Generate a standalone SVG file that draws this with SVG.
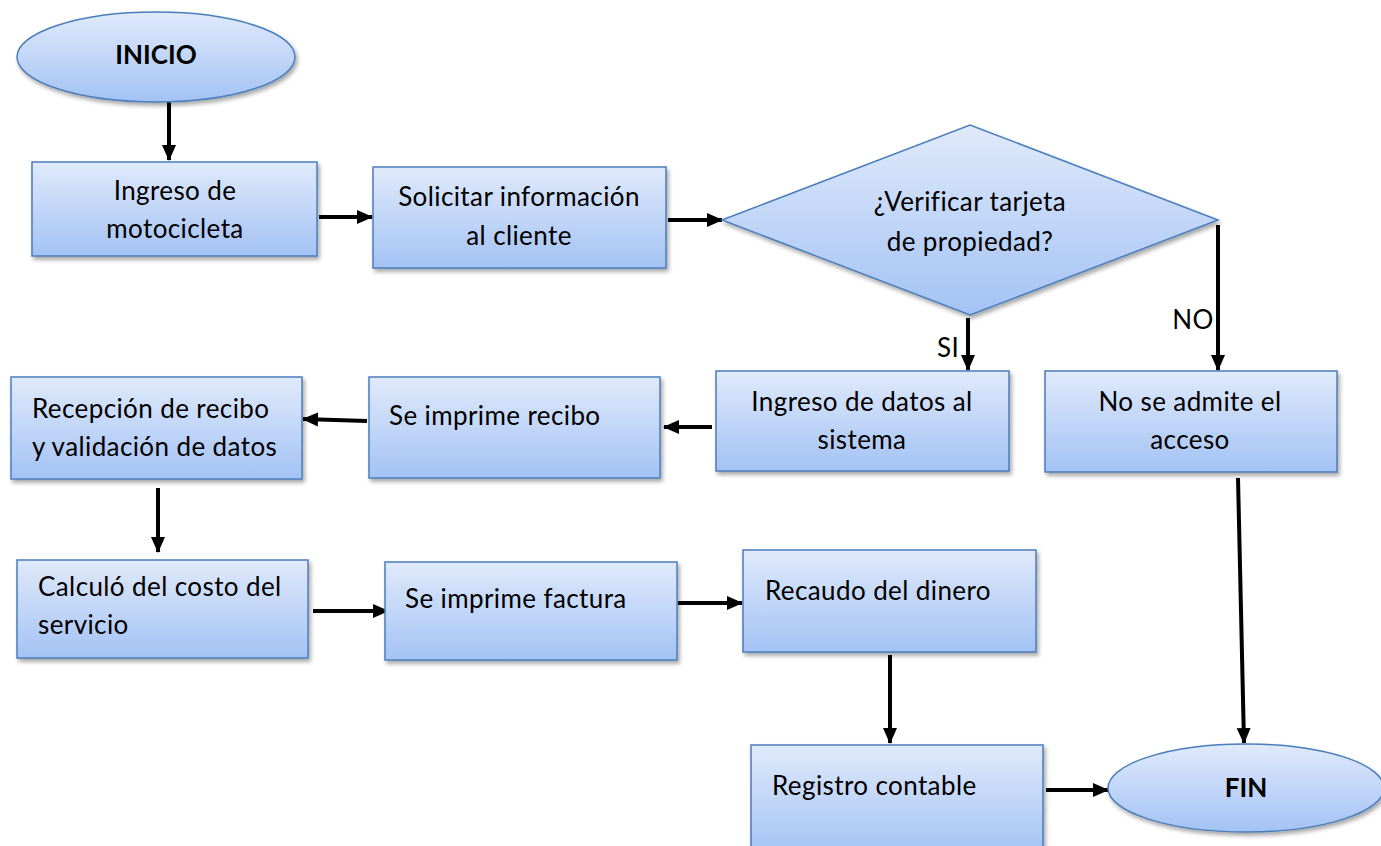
<svg xmlns="http://www.w3.org/2000/svg" width="1381" height="846" viewBox="0 0 1381 846">
<defs>
<linearGradient id="g" x1="0" y1="0" x2="0" y2="1">
<stop offset="0" stop-color="#e0eafb"/>
<stop offset="1" stop-color="#a3c2f4"/>
</linearGradient>
<filter id="sh" x="-10%" y="-10%" width="130%" height="140%">
<feDropShadow dx="2" dy="3" stdDeviation="2" flood-color="#000" flood-opacity="0.35"/>
</filter>
<marker id="ah" markerUnits="userSpaceOnUse" markerWidth="16" markerHeight="16" viewBox="0 0 16 16" refX="15" refY="8" orient="auto">
<path d="M0,1 L16,8 L0,15 Z" fill="#000"/>
</marker>
<style>
.n{fill:url(#g);stroke:#4a7ebb;stroke-width:1.5;filter:url(#sh)}
.t{font-family:Lato,"Liberation Sans",sans-serif;font-size:26px;letter-spacing:0.4px;fill:#000}
.c{text-anchor:middle}
.b{font-weight:bold;letter-spacing:0}
.e line{stroke:#000;stroke-width:4;marker-end:url(#ah)}
</style>
</defs>
<rect width="1381" height="846" fill="#fff"/>
<g id="connectors" class="e">
<line x1="169" y1="102" x2="169" y2="160"/>
<line x1="319" y1="217" x2="372" y2="217"/>
<line x1="668" y1="220" x2="722" y2="220"/>
<line x1="968" y1="318" x2="968" y2="370"/>
<line x1="1218" y1="225" x2="1218" y2="370"/>
<line x1="712" y1="427" x2="664" y2="427"/>
<line x1="367" y1="421" x2="303" y2="419"/>
<line x1="158" y1="488" x2="158" y2="552"/>
<line x1="313" y1="611" x2="388" y2="611"/>
<line x1="678" y1="603" x2="742" y2="603"/>
<line x1="890" y1="655" x2="890" y2="743"/>
<line x1="1046" y1="790" x2="1108" y2="790"/>
<line x1="1238" y1="478" x2="1244" y2="743"/>
</g>
<text class="t" x="948" y="357" text-anchor="middle">SI</text>
<text class="t" x="1193" y="329" text-anchor="middle">NO</text>
<g id="inicio"><ellipse class="n" cx="156" cy="57" rx="139" ry="45"/><text class="t c b" x="156" y="64">INICIO</text></g>
<g id="ingreso-moto"><rect class="n" x="32" y="162" width="285" height="94"/><text class="t c" x="175" y="200">Ingreso de</text><text class="t c" x="175" y="238">motocicleta</text></g>
<g id="solicitar"><rect class="n" x="373" y="167" width="293" height="101"/><text class="t c" x="519" y="206">Solicitar información</text><text class="t c" x="519" y="245">al cliente</text></g>
<g id="decision"><polygon class="n" points="722,220 970,125 1218,220 970,315"/><text class="t c" x="970" y="211">¿Verificar tarjeta</text><text class="t c" x="970" y="251">de propiedad?</text></g>
<g id="ingreso-datos"><rect class="n" x="716" y="371" width="293" height="100"/><text class="t c" x="862" y="411">Ingreso de datos al</text><text class="t c" x="862" y="449">sistema</text></g>
<g id="no-admite"><rect class="n" x="1045" y="371" width="292" height="101"/><text class="t c" x="1190" y="411">No se admite el</text><text class="t c" x="1190" y="449">acceso</text></g>
<g id="imprime-recibo"><rect class="n" x="369" y="377" width="291" height="101"/><text class="t" x="389" y="425">Se imprime recibo</text></g>
<g id="recepcion"><rect class="n" x="11" y="377" width="291" height="102"/><text class="t" x="32" y="418">Recepción de recibo</text><text class="t" x="32" y="456">y validación de datos</text></g>
<g id="calculo"><rect class="n" x="17" y="560" width="291" height="98"/><text class="t" x="38" y="596">Calculó del costo del</text><text class="t" x="38" y="634">servicio</text></g>
<g id="imprime-factura"><rect class="n" x="385" y="562" width="292" height="98"/><text class="t" x="405" y="608">Se imprime factura</text></g>
<g id="recaudo"><rect class="n" x="743" y="550" width="293" height="102"/><text class="t" x="765" y="600">Recaudo del dinero</text></g>
<g id="registro"><rect class="n" x="751" y="745" width="292" height="110"/><text class="t" x="772" y="795">Registro contable</text></g>
<g id="fin"><ellipse class="n" cx="1246" cy="788" rx="138" ry="44"/><text class="t c b" x="1246" y="797">FIN</text></g>
</svg>
